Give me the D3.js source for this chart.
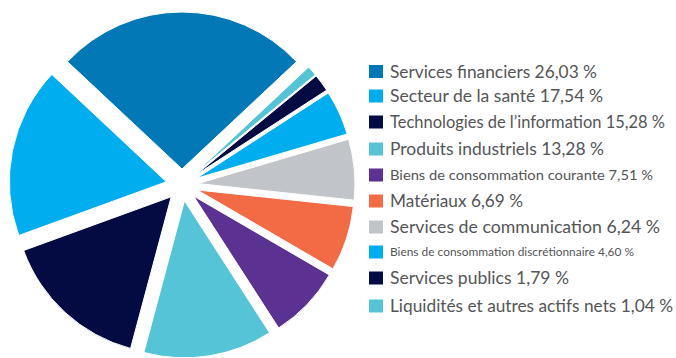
<!DOCTYPE html>
<html>
<head>
<meta charset="utf-8">
<script src="https://cdn.jsdelivr.net/npm/d3@7"></script>
<style>
  html, body { margin: 0; padding: 0; background: #fff; }
  svg { display: block; }
  .legend text { font-family: Lato, "Open Sans", sans-serif; fill: #545557; }
</style>
</head>
<body>
<svg id="chart" width="676" height="358"></svg>
<script>
// Sector allocation (legend order)
const sectors = [
  "Services financiers",
  "Secteur de la santé",
  "Technologies de l’information",
  "Produits industriels",
  "Biens de consommation courante",
  "Matériaux",
  "Services de communication",
  "Biens de consommation discrétionnaire",
  "Services publics",
  "Liquidités et autres actifs nets"
];
const weights = [26.03, 17.54, 15.28, 13.28, 7.51, 6.69, 6.24, 4.60, 1.79, 1.04];
const colors = [
  "#0279b6", "#00adee", "#030b42", "#55c4d6", "#5b3192",
  "#f26b44", "#c1c5c9", "#00adee", "#030b42", "#55c4d6"
];
// Legend label typography: font size and fitted line length (px)
const labelSizes = [17.5, 17.5, 16.5, 17.5, 13, 16.5, 17.5, 11.5, 17, 17.5];
const labelWidths = [207, 213, 275, 214, 263, 133, 270, 244, 179, 283];

const fmt = v => v.toFixed(2).replace(".", ",") + " %";

const svg = d3.select("#chart");

// ---- Pie ----
const cx = 182, cy = 185, radius = 157, explode = 16;
const total = d3.sum(weights);
// First slice centred at 12 o'clock, the rest running counter-clockwise
const start = Math.PI * weights[0] / total;
const pie = d3.pie().sort(null).value(d => d)
  .startAngle(start).endAngle(start - 2 * Math.PI);
const arcs = pie(weights);
const arc = d3.arc().innerRadius(0).outerRadius(radius);

const g = svg.append("g").attr("transform", `translate(${cx},${cy})`);
g.selectAll("path")
  .data(arcs)
  .join("path")
  .attr("d", arc)
  .attr("fill", (d, i) => colors[i])
  .attr("stroke", "#fff")
  .attr("stroke-width", 1)
  .attr("transform", d => {
    const mid = (d.startAngle + d.endAngle) / 2;
    return `translate(${explode * Math.sin(mid)},${-explode * Math.cos(mid)})`;
  });

// ---- Legend ----
const rowY = [71.5, 96, 122, 149, 175, 201, 227, 252, 278, 306];
const legend = svg.append("g").attr("class", "legend");
const rows = legend.selectAll("g")
  .data(sectors)
  .join("g")
  .attr("transform", (d, i) => `translate(369,${rowY[i]})`);
rows.append("rect")
  .attr("x", 0).attr("y", -6.5)
  .attr("width", 14).attr("height", 13)
  .attr("fill", (d, i) => colors[i]);
rows.append("text")
  .attr("x", 21)
  .attr("y", (d, i) => labelSizes[i] * 0.355)
  .attr("textLength", (d, i) => labelWidths[i])
  .attr("lengthAdjust", "spacingAndGlyphs")
  .style("font-size", (d, i) => labelSizes[i] + "px")
  .text((d, i) => `${d} ${fmt(weights[i])}`);
</script>
</body>
</html>
